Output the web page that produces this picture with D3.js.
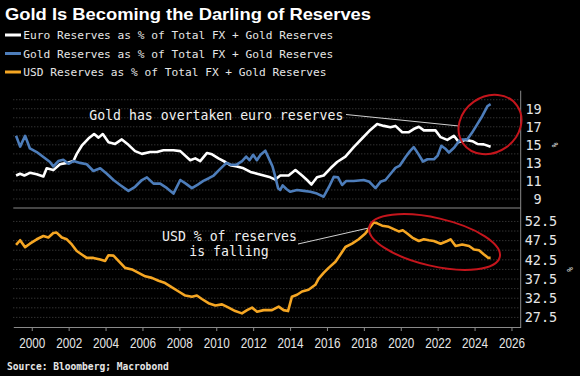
<!DOCTYPE html>
<html>
<head>
<meta charset="utf-8">
<script src="https://cdn.jsdelivr.net/npm/d3@7"></script>
<style>
  body { margin: 0; background: #000; }
  svg { display: block; }
</style>
</head>
<body>
<div id="chart"></div>
<script>
// Euro reserves as % of total FX + gold reserves
const euroYears = [1999.15, 1999.37, 1999.6, 1999.9, 2000.27, 2000.63, 2000.81, 2001.17, 2001.53, 2001.9,
  2002.26, 2002.44, 2002.71, 2003.07, 2003.38, 2003.62, 2003.85, 2004.16, 2004.52, 2004.88,
  2005.24, 2005.6, 2005.97, 2006.42, 2006.78, 2007.14, 2007.68, 2008.05, 2008.59, 2008.86,
  2009.13, 2009.5, 2009.77, 2010.12, 2010.49, 2010.76, 2011.12, 2011.48, 2011.85, 2012.21,
  2012.57, 2012.93, 2013.2, 2013.47, 2013.92, 2014.29, 2014.65, 2014.92, 2015.16, 2015.46,
  2015.82, 2016.19, 2016.55, 2017.0, 2017.45, 2017.9, 2018.35, 2018.72, 2019.08, 2019.44,
  2019.71, 2020.08, 2020.44, 2020.7, 2020.98, 2021.25, 2021.88, 2022.16, 2022.52, 2022.88,
  2023.15, 2023.51, 2023.88, 2024.15, 2024.5, 2024.87];
const euroValues = [11.6, 11.8, 11.6, 11.9, 11.75, 11.5, 12.4, 12.2, 12.85, 13.0,
  13.2, 14.0, 14.9, 15.7, 16.2, 15.8, 16.2, 15.3, 15.1, 15.6,
  15.0, 14.3, 14.0, 14.2, 14.2, 14.4, 14.4, 14.3, 13.3, 13.5,
  13.2, 14.1, 13.95, 13.5, 13.1, 12.75, 12.6, 12.4, 12.0, 11.8,
  11.6, 11.4, 11.15, 11.6, 11.6, 12.2, 11.6, 11.1, 10.6, 11.4,
  11.6, 12.4, 13.1, 13.7, 14.75, 15.7, 16.65, 17.3, 17.1, 16.95,
  17.1, 16.4, 16.4, 16.75, 17.0, 16.6, 16.6, 15.85, 15.55, 16.0,
  15.3, 15.55, 15.4, 15.1, 15.05, 14.8];

// Gold reserves as % of total FX + gold reserves
const goldYears = [1999.15, 1999.37, 1999.64, 1999.9, 2000.27, 2000.63, 2000.99, 2001.17, 2001.44, 2001.71,
  2001.99, 2002.26, 2002.62, 2002.98, 2003.34, 2003.71, 2004.07, 2004.43, 2004.79, 2005.24,
  2005.6, 2005.97, 2006.24, 2006.6, 2006.96, 2007.33, 2007.68, 2008.05, 2008.35, 2008.68,
  2009.0, 2009.3, 2009.6, 2009.86, 2010.2, 2010.55, 2010.8, 2011.1, 2011.4, 2011.62,
  2011.8, 2012.0, 2012.2, 2012.4, 2012.66, 2012.85, 2013.05, 2013.2, 2013.35, 2013.47,
  2013.6, 2013.8, 2014.0, 2014.38, 2014.75, 2015.1, 2015.46, 2015.82, 2016.1, 2016.37,
  2016.6, 2016.82, 2017.05, 2017.45, 2017.99, 2018.3, 2018.63, 2018.9, 2019.17, 2019.45,
  2019.71, 2019.95, 2020.26, 2020.5, 2020.7, 2020.95, 2021.2, 2021.45, 2021.8, 2022.0,
  2022.2, 2022.4, 2022.61, 2022.9, 2023.15, 2023.35, 2023.6, 2023.85, 2024.15, 2024.42,
  2024.7, 2024.87];
const goldValues = [16.0, 14.8, 16.0, 14.6, 14.2, 13.65, 13.1, 12.6, 13.2, 13.35,
  12.9, 13.2, 13.0, 12.85, 12.1, 12.4, 11.8, 11.1, 10.55, 9.9,
  10.35, 11.1, 11.4, 10.7, 10.7, 10.2, 9.6, 11.1, 10.7, 10.2,
  10.6, 11.0, 11.3, 11.6, 12.3, 13.0, 12.8, 12.8, 13.2, 13.7,
  13.3, 13.9, 13.3, 13.9, 14.35, 13.5, 12.6, 11.45, 10.2, 10.0,
  10.5, 10.1, 9.8, 10.0, 9.9, 9.8, 9.6, 9.25, 10.3, 11.45,
  11.4, 10.55, 11.0, 11.0, 11.1, 10.9, 10.2, 10.9, 11.1, 11.8,
  12.45, 12.7, 13.65, 14.3, 14.75, 14.0, 13.15, 13.4, 13.4, 13.8,
  14.9, 14.6, 14.15, 14.7, 15.4, 15.6, 15.6, 16.3, 17.3, 18.2,
  19.3, 19.5];

// USD reserves as % of total FX + gold reserves
const usdYears = [1999.15, 1999.37, 1999.64, 1999.9, 2000.27, 2000.63, 2000.9, 2001.17, 2001.35, 2001.63,
  2001.9, 2002.17, 2002.44, 2002.71, 2002.98, 2003.34, 2003.71, 2003.98, 2004.16, 2004.43,
  2004.7, 2005.06, 2005.43, 2005.79, 2006.15, 2006.51, 2006.87, 2007.23, 2007.6, 2007.96,
  2008.32, 2008.68, 2008.95, 2009.22, 2009.58, 2009.95, 2010.31, 2010.67, 2011.03, 2011.39,
  2011.67, 2011.94, 2012.21, 2012.57, 2013.02, 2013.38, 2013.65, 2013.89, 2014.1, 2014.38,
  2014.65, 2015.0, 2015.37, 2015.55, 2015.82, 2016.09, 2016.46, 2016.73, 2017.0, 2017.36,
  2017.72, 2018.08, 2018.3, 2018.53, 2018.72, 2018.99, 2019.35, 2019.62, 2019.89, 2020.11,
  2020.35, 2020.62, 2020.98, 2021.25, 2021.52, 2021.79, 2022.16, 2022.52, 2022.7, 2022.97,
  2023.33, 2023.7, 2023.97, 2024.24, 2024.51, 2024.75, 2024.87];
const usdValues = [46.4, 47.6, 45.8, 46.7, 47.85, 48.7, 48.3, 49.5, 49.6, 48.3,
  47.85, 46.5, 44.8, 43.9, 43.0, 43.0, 42.6, 42.2, 43.7, 43.6,
  42.2, 40.4, 40.0, 39.1, 38.2, 37.8, 37.05, 36.45, 35.3, 34.25,
  33.2, 32.9, 33.2, 32.3, 31.2, 30.6, 30.9, 30.05, 29.15, 28.55,
  29.4, 30.05, 29.0, 29.4, 29.4, 30.3, 29.4, 29.15, 32.9, 33.4,
  34.25, 34.7, 36.0, 37.6, 39.1, 40.4, 42.0, 43.9, 45.85, 46.7,
  47.85, 49.35, 50.75, 52.25, 52.0, 51.4, 51.1, 50.5, 49.9, 50.2,
  49.35, 48.3, 47.4, 47.85, 47.6, 47.4, 46.7, 47.4, 47.85, 46.1,
  46.5, 46.1, 45.2, 45.0, 43.9, 43.0, 43.0];

const xTickYears = [2000, 2002, 2004, 2006, 2008, 2010, 2012, 2014, 2016, 2018, 2020, 2022, 2024, 2026];
const topTicks = [9, 11, 13, 15, 17, 19];
const bottomTicks = [27.5, 32.5, 37.5, 42.5, 47.5, 52.5];
const legendLabels = [
  "Euro Reserves as % of Total FX + Gold Reserves",
  "Gold Reserves as % of Total FX + Gold Reserves",
  "USD Reserves as % of Total FX + Gold Reserves"
];

const colors = { euro: "#ffffff", gold: "#4d7dba", usd: "#f5a623", red: "#c4151c" };
const mono = "'DejaVu Sans Mono', 'Liberation Mono', monospace";

const width = 580, height = 376;
const svg = d3.select("#chart").append("svg")
  .attr("width", width)
  .attr("height", height);

svg.append("rect").attr("width", width).attr("height", height).attr("fill", "#000");

// Scales: shared x, two stacked panels
const xScale = d3.scaleLinear().domain([1999, 2026.5]).range([13.3, 520.7]);
const yTop = d3.scaleLinear().domain([8, 21]).range([208, 90.7]);
const yBottom = d3.scaleLinear().domain([25, 56]).range([327, 208]);

// Title + legend
svg.append("text")
  .attr("x", 5).attr("y", 19.5)
  .attr("fill", "#fff")
  .attr("font-family", "'Liberation Sans', Arial, sans-serif")
  .attr("font-weight", "bold")
  .attr("font-size", 16.5)
  .attr("textLength", 366)
  .attr("lengthAdjust", "spacingAndGlyphs")
  .text("Gold Is Becoming the Darling of Reserves");

const legendColors = [colors.euro, colors.gold, colors.usd];
const legend = svg.selectAll(".legend")
  .data(legendLabels)
  .join("g")
  .attr("class", "legend")
  .attr("transform", (d, i) => `translate(0,${39 + i * 18.5})`);
legend.append("line")
  .attr("x1", 5).attr("x2", 21).attr("y1", -4).attr("y2", -4)
  .attr("stroke", (d, i) => legendColors[i])
  .attr("stroke-width", 3);
legend.append("text")
  .attr("x", 23.3).attr("y", 0)
  .attr("fill", "#e6e6e6")
  .attr("font-family", mono)
  .attr("font-size", 11.2)
  .text(d => d);

// Dotted gridlines
svg.append("g").selectAll("line")
  .data(d3.range(9, 21))
  .join("line")
  .attr("x1", xScale.range()[0]).attr("x2", xScale.range()[1])
  .attr("y1", d => yTop(d)).attr("y2", d => yTop(d))
  .attr("stroke", "#5a5a5a").attr("stroke-width", 0.8)
  .attr("stroke-dasharray", "1,2");

svg.append("g").selectAll("line")
  .data(d3.range(27.5, 55, 2.5))
  .join("line")
  .attr("x1", xScale.range()[0]).attr("x2", xScale.range()[1])
  .attr("y1", d => yBottom(d)).attr("y2", d => yBottom(d))
  .attr("stroke", "#5a5a5a").attr("stroke-width", 0.8)
  .attr("stroke-dasharray", "1,2");

// Panel frame lines
svg.append("line")
  .attr("x1", xScale.range()[0]).attr("x2", xScale.range()[1])
  .attr("y1", yTop.range()[0]).attr("y2", yTop.range()[0])
  .attr("stroke", "#8a8a8a").attr("stroke-width", 1);
svg.append("line")
  .attr("x1", xScale.range()[1]).attr("x2", xScale.range()[1])
  .attr("y1", yTop.range()[1]).attr("y2", yBottom.range()[0])
  .attr("stroke", "#8a8a8a").attr("stroke-width", 1);

// X axis
const xAxis = d3.axisBottom(xScale)
  .tickValues(xTickYears)
  .tickFormat(d3.format("d"))
  .tickSize(4)
  .tickSizeOuter(0)
  .tickPadding(6);
const xAxisGroup = svg.append("g")
  .attr("transform", `translate(0,${yBottom.range()[0]})`)
  .call(xAxis);
xAxisGroup.select(".domain").attr("stroke", "#8a8a8a");
xAxisGroup.selectAll(".tick line").attr("stroke", "#8a8a8a");
xAxisGroup.selectAll(".tick text")
  .attr("fill", "#e6e6e6")
  .attr("font-family", "'Liberation Sans', Arial, sans-serif")
  .attr("font-size", 15)
  .attr("textLength", 26)
  .attr("lengthAdjust", "spacingAndGlyphs");

// Y axes on the right
function styleY(g, offset) {
  g.select(".domain").remove();
  g.selectAll(".tick line").remove();
  g.selectAll(".tick text")
    .attr("x", offset)
    .attr("text-anchor", "end")
    .attr("fill", "#e6e6e6")
    .attr("font-family", mono)
    .attr("font-size", 13.5);
}
svg.append("g")
  .attr("transform", `translate(${xScale.range()[1]},0)`)
  .call(d3.axisRight(yTop).tickValues(topTicks).tickFormat(d3.format("d")))
  .call(g => styleY(g, 21));
svg.append("g")
  .attr("transform", `translate(${xScale.range()[1]},0)`)
  .call(d3.axisRight(yBottom).tickValues(bottomTicks).tickFormat(d3.format(".1f")))
  .call(g => styleY(g, 36.5));

// rotated % unit labels
[[552, yTop(15)], [567, yBottom(40)]].forEach(([x, y]) => {
  svg.append("text")
    .attr("transform", `translate(${x},${y}) rotate(90)`)
    .attr("text-anchor", "middle")
    .attr("fill", "#e6e6e6")
    .attr("font-family", mono)
    .attr("font-size", 8)
    .text("%");
});

// Series lines
const lineTop = d3.line().x(d => xScale(d[0])).y(d => yTop(d[1]));
const lineBottom = d3.line().x(d => xScale(d[0])).y(d => yBottom(d[1]));

svg.append("path")
  .datum(d3.zip(euroYears, euroValues))
  .attr("fill", "none")
  .attr("stroke", colors.euro)
  .attr("stroke-width", 2.6)
  .attr("stroke-linejoin", "round")
  .attr("d", lineTop);

svg.append("path")
  .datum(d3.zip(goldYears, goldValues))
  .attr("fill", "none")
  .attr("stroke", colors.gold)
  .attr("stroke-width", 2.6)
  .attr("stroke-linejoin", "round")
  .attr("d", lineTop);

svg.append("path")
  .datum(d3.zip(usdYears, usdValues))
  .attr("fill", "none")
  .attr("stroke", colors.usd)
  .attr("stroke-width", 2.6)
  .attr("stroke-linejoin", "round")
  .attr("d", lineBottom);

// Annotations
svg.append("text")
  .attr("x", 89.3).attr("y", 120)
  .attr("fill", "#f0f0f0")
  .attr("font-family", mono)
  .attr("font-size", 13.2)
  .text("Gold has overtaken euro reserves");
svg.append("line")
  .attr("x1", 346).attr("y1", 114.5)
  .attr("x2", 459).attr("y2", 126)
  .attr("stroke", "#d0d0d0").attr("stroke-width", 1);

const usdNote = svg.append("text")
  .attr("fill", "#f0f0f0")
  .attr("font-family", mono)
  .attr("font-size", 13.2)
  .attr("text-anchor", "middle");
usdNote.append("tspan").attr("x", 229.5).attr("y", 240.7).text("USD % of reserves");
usdNote.append("tspan").attr("x", 229).attr("y", 256.3).text("is falling");
svg.append("line")
  .attr("x1", 298).attr("y1", 244)
  .attr("x2", 368.5).attr("y2", 228)
  .attr("stroke", "#d0d0d0").attr("stroke-width", 1);

// Red highlight ellipses
svg.append("ellipse")
  .attr("transform", "translate(490,124.5) rotate(-35)")
  .attr("rx", 33).attr("ry", 28)
  .attr("fill", "none")
  .attr("stroke", colors.red)
  .attr("stroke-width", 2);
svg.append("ellipse")
  .attr("transform", "translate(434.5,242) rotate(13)")
  .attr("rx", 67).attr("ry", 24)
  .attr("fill", "none")
  .attr("stroke", colors.red)
  .attr("stroke-width", 2);

// Source
svg.append("text")
  .attr("x", 7).attr("y", 370)
  .attr("fill", "#e6e6e6")
  .attr("font-family", mono)
  .attr("font-weight", "bold")
  .attr("font-size", 9.6)
  .text("Source: Bloomberg; Macrobond");
</script>
</body>
</html>
